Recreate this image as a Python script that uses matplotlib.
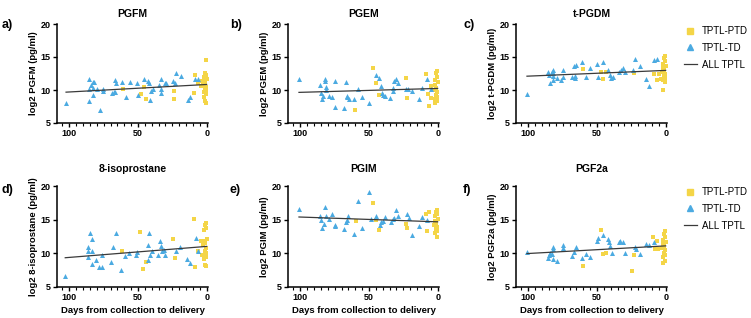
import numpy as np
import matplotlib
matplotlib.use("Agg")
import matplotlib.pyplot as plt
from matplotlib.lines import Line2D
from matplotlib.ticker import MultipleLocator

plt.rcParams['font.family'] = ['Liberation Sans', 'DejaVu Sans']

# ---- data ----
titles = ["PGFM", "PGEM", "t-PGDM", "8-isoprostane", "PGIM", "PGF2a"]
ylabels = ["log2 PGFM (pg/ml)", "log2 PGEM (pg/ml)", "log2 t-PGDM (pg/ml)",
           "log2 8-isoprostane (pg/ml)", "log2 PGIM (pg/ml)", "log2 PGF2a (pg/ml)"]
panel_tags = ["a)", "b)", "c)", "d)", "e)", "f)"]

cluster_days = [0.3, 1.2, 0.6, 2.0, 0.0, 1.6, 0.9, 2.6, 0.2, 1.4, 0.7, 2.2, 0.4, 1.8, 1.0, 0.1]

# a) PGFM
a_td_days = [102.4, 85.9, 85.9, 84, 83, 82, 82.7, 85.9, 83, 79.8, 77.8, 75.6, 75.6, 69, 67.8, 67, 65.9,
             66.6, 61.7, 59, 56, 50.5, 50, 45.9, 43, 41.9, 40.2, 41, 38.8, 34.9, 33, 33.4, 33, 30.5,
             29.8, 24.4, 23.2, 22, 19, 13.9, 12.2, 8.5, 6.6]
a_td_vals = [8.0, 11.6, 10.2, 10.8, 11.2, 11.2, 9.2, 8.3, 10.3, 10.1, 7.0, 10.1, 9.8, 9.5, 9.7, 11.5, 11.1,
             9.7, 11.2, 8.9, 11.2, 11.0, 9.2, 11.7, 11.4, 11.0, 9.9, 8.5, 10.2, 10.8, 11.7, 10.1, 9.5, 11.0,
             11.1, 11.3, 11.1, 12.6, 12.1, 8.5, 8.9, 11.6, 11.6]
a_ptd_days = [61, 48, 45.9, 43.9, 23.9, 23.9, 9, 8.3, 6.1, 4.0, 3.2] + cluster_days
a_ptd_vals = [10.2, 9.4, 10.5, 8.7, 9.8, 8.7, 9.6, 12.2, 11.1, 10.6, 11.4,
              14.6, 12.6, 12.3, 12.0, 11.7, 11.4, 11.2, 10.8, 10.5, 10.3, 10.0, 9.7, 9.4, 9.0, 8.3, 8.0]

# b) PGEM
b_td_days = [101, 85.5, 84.8, 84.3, 83.5, 81.9, 81.9, 81.6, 81.6, 79, 77, 74.6, 74.6, 67.9, 66.7, 66.2,
             65.7, 64.5, 60.9, 57.7, 54.8, 50, 44.9, 42.5, 40.8, 41.3, 39.6, 38.4, 34.8, 32.4, 31.6,
             32.4, 30, 29.2, 23.2, 21.5, 18.4, 13.5, 11.4, 7.5, 5.1]
b_td_vals = [11.7, 10.7, 9.6, 8.6, 9.1, 11.7, 11.3, 10.4, 10.0, 9.1, 8.9, 11.3, 7.5, 7.2, 11.2, 9.1,
             8.9, 8.6, 8.7, 10.1, 8.9, 8.0, 12.3, 11.8, 9.5, 10.6, 9.3, 9.1, 8.8, 10.3, 11.3,
             9.8, 11.7, 11.0, 10.1, 10.1, 9.9, 8.6, 10.3, 11.7, 10.1]
b_ptd_days = [59.9, 46.9, 44.9, 42.8, 23.2, 22.2, 8.2, 6.5, 7.0, 4.6, 4.6] + cluster_days[:14]
b_ptd_vals = [7.0, 13.3, 11.1, 9.2, 11.8, 8.8, 12.4, 7.6, 9.4, 10.6, 8.8,
              12.9, 12.6, 12.0, 11.5, 11.2, 10.8, 10.3, 10.0, 9.7, 9.3, 9.0, 8.6, 8.3, 8.0]

# c) t-PGDM
c_td_days = [101, 85.4, 84.9, 84.4, 83, 82, 81.8, 81.8, 81.8, 78.9, 76.5, 74.6, 74.6, 67.9, 66.9, 65.5,
             66.2, 65.7, 60.9, 58, 54.9, 50.1, 49.4, 45.3, 41.7, 40.5, 39.8, 38.6, 34.1, 32.6, 30.9,
             29.7, 23.7, 22.3, 18.9, 14.1, 12.2, 8.2, 6.5]
c_td_vals = [9.4, 12.7, 12.2, 11.1, 12.7, 13.1, 12.6, 12.1, 11.5, 11.8, 11.5, 13.1, 11.9, 11.9, 13.7, 13.8,
             12.1, 11.8, 14.2, 11.9, 13.4, 13.9, 11.9, 14.3, 13.1, 12.3, 11.8, 12.0, 12.7, 13.1, 13.4,
             12.7, 13.1, 14.7, 13.6, 11.7, 10.6, 14.5, 14.7]
c_ptd_days = [60.2, 47.2, 45.3, 43.4, 23.0, 8.2, 6.5, 4.6, 3.4] + cluster_days[:14]
c_ptd_vals = [13.2, 12.7, 11.6, 12.7, 12.6, 12.5, 11.5, 12.5, 11.7,
              15.1, 14.8, 14.4, 14.0, 13.6, 13.3, 13.0, 12.7, 12.4, 12.1, 11.8, 11.5, 11.2, 10.0]

# d) 8-isoprostane
d_td_days = [103, 86.5, 86.5, 86.5, 84.8, 83.5, 83.3, 83.3, 80.3, 78.1, 76.2, 76.2, 69.5, 68.3, 66.3,
             62.2, 59.5, 56.5, 51.6, 50.4, 43, 41.8, 41.3, 39.8, 43, 35.1, 33.7, 33.2, 32.7, 31.2,
             30.2, 22.1, 19.4, 14, 12.3, 8.1, 6.6]
d_td_vals = [6.7, 11.0, 10.3, 9.5, 13.0, 12.2, 10.4, 8.4, 9.0, 8.0, 7.9, 9.8, 8.7, 10.9, 13.0,
             7.5, 9.6, 10.1, 9.7, 10.2, 11.2, 13.0, 9.8, 10.3, 9.0, 9.7, 11.9, 11.1, 10.3, 10.5,
             9.8, 10.4, 10.9, 9.1, 8.5, 12.3, 10.3]
d_ptd_days = [61.4, 48.4, 46.2, 44.2, 24.3, 23.3, 9.3, 8.4, 6.1, 4.2, 3.7] + cluster_days
d_ptd_vals = [10.3, 13.1, 7.7, 8.7, 12.1, 9.3, 15.1, 7.9, 10.3, 11.8, 9.8,
              14.5, 14.2, 13.8, 13.4, 12.2, 11.9, 11.6, 11.2, 10.8, 10.4, 10.0, 9.7, 9.4, 9.1, 8.3, 8.1]

# e) PGIM
e_td_days = [101, 85.5, 84.8, 84.3, 82.6, 81.9, 81.4, 79, 76.6, 75.1, 74.6, 67.9, 66.7, 66.2, 65,
             60.9, 57.7, 54.8, 49.8, 48.8, 44.9, 42, 41.3, 40.1, 38.4, 34.1, 32.4, 31.9, 30, 29.2,
             22.2, 21, 18.4, 13.5, 11.4, 7.5]
e_td_vals = [16.6, 15.5, 15.0, 13.7, 14.3, 16.9, 15.5, 15.1, 15.9, 14.2, 14.0, 13.6, 14.6, 14.9, 15.5,
             12.8, 17.8, 13.7, 19.1, 15.1, 15.5, 14.2, 14.7, 14.8, 15.4, 14.7, 15.1, 15.3, 16.5, 15.6,
             15.8, 15.3, 12.7, 14.1, 15.4, 14.9]
e_ptd_days = [59.7, 46.9, 44.9, 42.8, 23.2, 22.2, 8.2, 6.3, 7.5] + cluster_days[:13]
e_ptd_vals = [14.8, 17.5, 15.0, 13.4, 14.3, 13.7, 15.9, 16.2, 13.3,
              16.5, 16.2, 15.9, 15.5, 15.1, 14.8, 14.5, 14.2, 13.9, 13.6, 13.3, 13.0, 12.5]

# f) PGF2a
f_td_days = [101, 85.4, 84.9, 84.4, 83, 81.8, 81.8, 81.8, 78.9, 74.6, 74.6, 67.9, 66.9, 65.2, 60.9,
             58, 54.9, 50.1, 49.4, 45.3, 42.2, 41.2, 40.5, 38.8, 34.1, 32.9, 30.9, 29.7, 22.5, 21.3,
             18.9, 14.1, 12.2, 8.2]
f_td_vals = [10.2, 9.3, 9.8, 10.1, 9.9, 10.7, 9.1, 10.9, 8.8, 11.3, 10.8, 9.6, 10.2, 10.9, 9.3,
             9.9, 9.5, 11.9, 12.3, 12.7, 12.2, 11.7, 11.1, 10.0, 11.7, 11.9, 11.7, 10.1, 10.9, 10.7,
             9.9, 11.4, 11.3, 11.7]
f_ptd_days = [60.2, 47.2, 45.3, 43.4, 24.2, 23.0, 9.4, 6.5, 7.4, 5.3] + cluster_days[:14]
f_ptd_vals = [8.1, 13.4, 9.9, 10.1, 7.4, 9.7, 12.4, 11.9, 10.7, 10.7,
              13.3, 12.8, 12.4, 12.0, 11.7, 11.4, 11.1, 10.8, 10.5, 10.1, 9.8, 9.4, 8.8, 8.5]

td_days = [a_td_days, b_td_days, c_td_days, d_td_days, e_td_days, f_td_days]
td_vals = [a_td_vals, b_td_vals, c_td_vals, d_td_vals, e_td_vals, f_td_vals]
ptd_days = [a_ptd_days, b_ptd_days, c_ptd_days, d_ptd_days, e_ptd_days, f_ptd_days]
ptd_vals = [a_ptd_vals, b_ptd_vals, c_ptd_vals, d_ptd_vals, e_ptd_vals, f_ptd_vals]

yellow = '#F4D547'
blue = '#4BAAE1'
line_col = '#3a3a3a'

W, H = 751, 318
fig = plt.figure(figsize=(W / 100, H / 100), dpi=100)

col_left = [57, 288, 516]
col_w = 151
rows = [(24, 123), (186, 287)]

for i in range(6):
    r, c = divmod(i, 3)
    top, bot = rows[r]
    ax = fig.add_axes([col_left[c] / W, 1 - bot / H, col_w / W, (bot - top) / H])

    ax.scatter(ptd_days[i], ptd_vals[i], marker='s', s=12, color=yellow, linewidths=0, zorder=3)
    ax.scatter(td_days[i], td_vals[i], marker='^', s=13, color=blue, linewidths=0, zorder=3)

    # regression over all points
    xs = np.array(td_days[i] + ptd_days[i])
    ys = np.array(td_vals[i] + ptd_vals[i])
    k, b0 = np.polyfit(xs, ys, 1)
    xx = np.array([xs.max(), 0])
    ax.plot(xx, k * xx + b0, color=line_col, lw=0.9, zorder=4)

    ax.set_xlim(109, -1)
    ax.set_ylim(5, 20)
    ax.set_xticks([100, 50, 0])
    ax.xaxis.set_minor_locator(MultipleLocator(5))
    ax.set_yticks([5, 10, 15, 20])
    for s in ['top', 'right']:
        ax.spines[s].set_visible(False)
    for s in ['left', 'bottom']:
        ax.spines[s].set_linewidth(1.1)
    ax.tick_params(which='major', direction='out', length=3, width=1.0, labelsize=6.5, pad=1.5)
    ax.tick_params(which='minor', direction='out', length=1.8, width=0.8)
    for lab in ax.get_xticklabels() + ax.get_yticklabels():
        lab.set_fontweight('bold')

    ax.set_title(titles[i], fontsize=7.5, fontweight='bold', pad=5 if r == 0 else 10)
    ax.set_ylabel(ylabels[i], fontsize=6.8, fontweight='bold', labelpad=2)
    if r == 1:
        ax.set_xlabel("Days from collection to delivery", fontsize=6.8, fontweight='bold', labelpad=3)

    tag_x = [2, 230, 463][c]
    tag_y = [25, 190][r]
    fig.text(tag_x / W, 1 - tag_y / H, panel_tags[i], fontsize=9, fontweight='bold', va='center')

    if c == 2:
        handles = [Line2D([], [], marker='s', ls='none', color=yellow, markersize=3.8),
                   Line2D([], [], marker='^', ls='none', color=blue, markersize=4.2),
                   Line2D([], [], color=line_col, lw=0.9)]
        ax.legend(handles, ["TPTL-PTD", "TPTL-TD", "ALL TPTL"], loc='upper left',
                  bbox_to_anchor=(684 / W, 1 - (26 if r == 0 else 187) / H),
                  bbox_transform=fig.transFigure, frameon=False, fontsize=7,
                  handlelength=1.3, handletextpad=0.5, labelspacing=0.7, borderaxespad=0,
                  borderpad=0)

fig.savefig("out.png", dpi=100)
